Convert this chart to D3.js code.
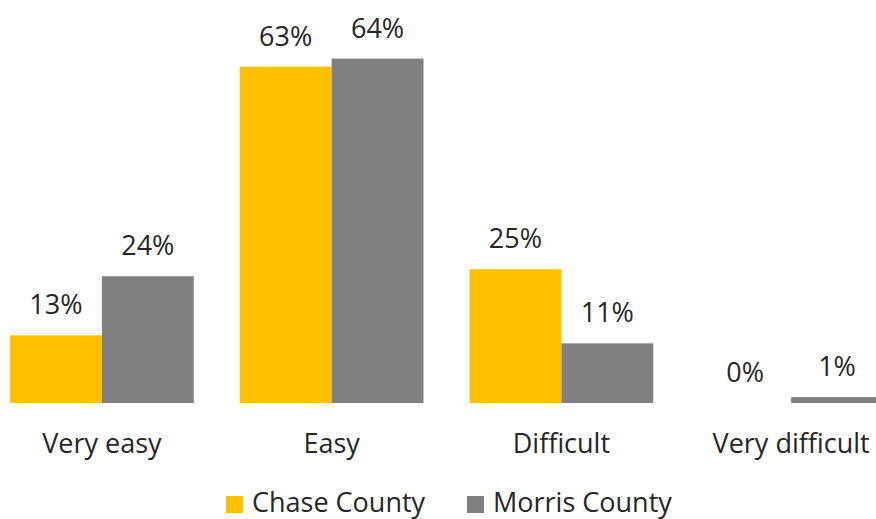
<!DOCTYPE html>
<html>
<head>
<meta charset="utf-8">
<script src="https://cdn.jsdelivr.net/npm/d3@7"></script>
<style>
  body { margin: 0; background: #fff; }
  text { font-family: "Open Sans", sans-serif; fill: #262626; }
</style>
</head>
<body>
<div id="container"></div>
<script>
/* DATA */
const categories = ["Very easy", "Easy", "Difficult", "Very difficult"];
const seriesNames = ["Chase County", "Morris County"];
const chaseValues = [12.6, 62.6, 24.9, 0];
const morrisValues = [23.6, 64.1, 11.1, 1.1];
const seriesColors = ["#FFC000", "#808080"];

/* CONSTANTS */
const width = 876, height = 519;
const fontSize = 27;

const rows = categories.map((c, i) => ({
  category: c,
  values: [
    { series: seriesNames[0], value: chaseValues[i] },
    { series: seriesNames[1], value: morrisValues[i] }
  ]
}));

const svg = d3.select("#container")
  .append("svg")
  .attr("width", width)
  .attr("height", height);

// SCALES
const x = d3.scaleBand()
  .domain(categories)
  .range([-13, 906])
  .paddingInner(0.2)
  .paddingOuter(0.1);

const xInner = d3.scaleBand()
  .domain(seriesNames)
  .range([0, x.bandwidth()]);

const y = d3.scaleLinear()
  .domain([0, 75])
  .range([403, 0]);

const color = d3.scaleOrdinal().domain(seriesNames).range(seriesColors);
const fmt = d => Math.round(d) + "%";

// BARS
const groups = svg.selectAll("g.group")
  .data(rows)
  .join("g")
  .attr("class", "group")
  .attr("transform", d => `translate(${x(d.category)},0)`);

groups.selectAll("rect")
  .data(d => d.values)
  .join("rect")
  .attr("x", d => xInner(d.series))
  .attr("y", d => y(d.value))
  .attr("width", xInner.bandwidth())
  .attr("height", d => y(0) - y(d.value))
  .attr("fill", d => color(d.series));

// VALUE LABELS
groups.selectAll("text.val")
  .data(d => d.values)
  .join("text")
  .attr("class", "val")
  .attr("x", d => xInner(d.series) + xInner.bandwidth() / 2)
  .attr("y", d => y(d.value) - 21)
  .attr("text-anchor", "middle")
  .style("font-size", fontSize + "px")
  .text(d => fmt(d.value));

// CATEGORY LABELS
svg.selectAll("text.cat")
  .data(categories)
  .join("text")
  .attr("class", "cat")
  .attr("x", d => x(d) + x.bandwidth() / 2)
  .attr("y", 453)
  .attr("text-anchor", "middle")
  .style("font-size", fontSize + "px")
  .text(d => d);

// LEGEND
const legendX = [226, 467];
const legend = svg.selectAll("g.legend")
  .data(seriesNames)
  .join("g")
  .attr("class", "legend")
  .attr("transform", (d, i) => `translate(${legendX[i]},496)`);

legend.append("rect")
  .attr("width", 17)
  .attr("height", 17)
  .attr("fill", d => color(d));

legend.append("text")
  .attr("x", 26)
  .attr("y", 16)
  .style("font-size", fontSize + "px")
  .text(d => d);
</script>
</body>
</html>
